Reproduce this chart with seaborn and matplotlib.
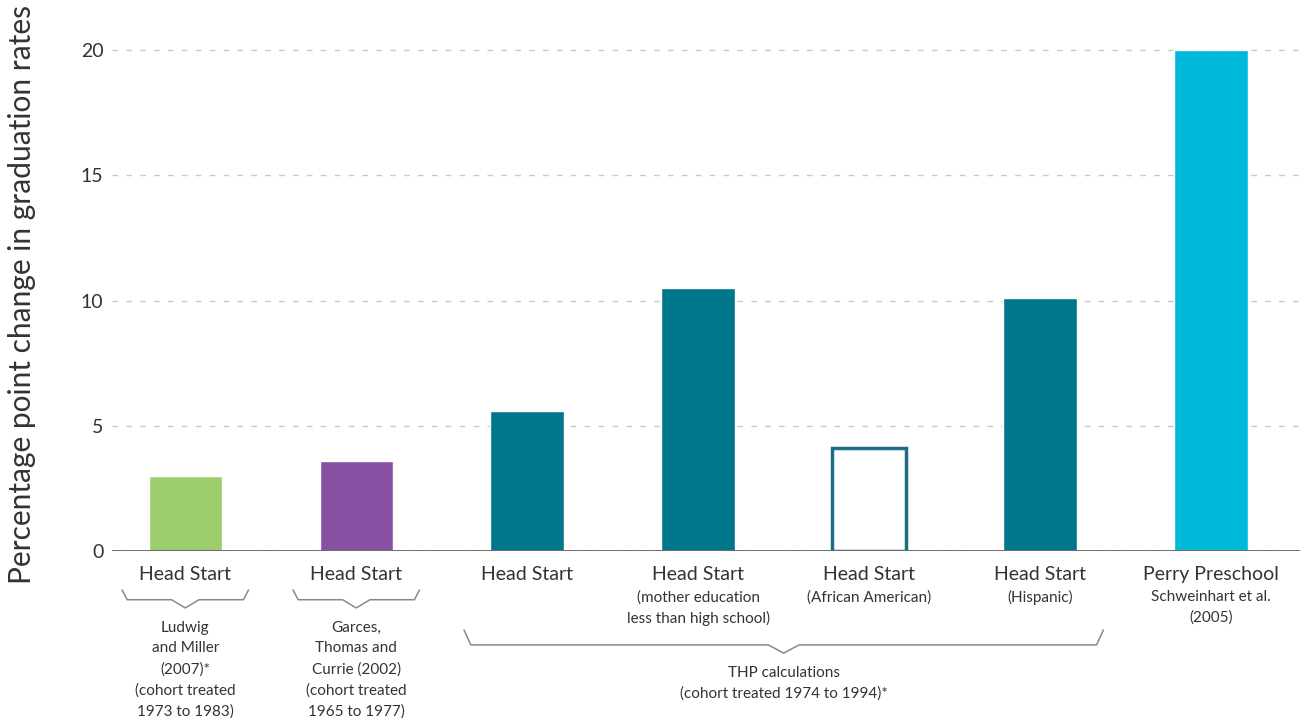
import numpy as np
import pandas as pd
import seaborn as sns
import matplotlib.pyplot as plt
from matplotlib.transforms import blended_transform_factory

sns.set_theme(style="white")
plt.rcParams['font.family'] = ['Lato', 'DejaVu Sans']

# data
programs = ['HS_LM', 'HS_GTC', 'HS_THP', 'HS_mother', 'HS_afam', 'HS_hisp', 'Perry']
values = [3.0, 3.6, 5.6, 10.5, 4.1, 10.1, 20.0]
top_labels = ['Head Start', 'Head Start', 'Head Start', 'Head Start', 'Head Start', 'Head Start', 'Perry Preschool']
sub_labels = ['', '', '', '(mother education\nless than high school)', '(African American)',
              '(Hispanic)', 'Schweinhart et al.\n(2005)']
source_labels = ['Ludwig\nand Miller\n(2007)*\n(cohort treated\n1973 to 1983)',
                 'Garces,\nThomas and\nCurrie (2002)\n(cohort treated\n1965 to 1977)']
thp_label = 'THP calculations\n(cohort treated 1974 to 1994)*'
colors = ['#9dce6d', '#8750a3', '#00778b', '#00778b', '#ffffff', '#00778b', '#00b8d8']

df = pd.DataFrame({'program': programs, 'value': values})

fig = plt.figure(figsize=(13, 7.24), dpi=100)
ax = fig.add_axes([0.086, 0.239, 0.914, 0.709])

sns.barplot(data=df, x='program', y='value', hue='program', palette=colors,
            width=0.43, legend=False, ax=ax, saturation=1)
# hollow bar for African American
ax.patches[4].set_edgecolor('#1a6f86')
ax.patches[4].set_linewidth(2.5)

ax.set_xlim(-0.43, 6.52)
ax.set_ylim(0, 20.5)
ax.set_yticks([0, 5, 10, 15, 20])
ax.yaxis.grid(True, color='#c8c8c8', linestyle=(0, (4, 6)), linewidth=1)
ax.set_axisbelow(True)
ax.axhline(0, color='#6b6b6b', linewidth=1.4, zorder=3)
sns.despine(ax=ax, left=True, bottom=True)

ax.set_xticks(range(len(programs)))
ax.set_xticklabels(top_labels, fontsize=14, color='#333333')
ax.tick_params(axis='x', length=0, pad=11)
ax.tick_params(axis='y', length=0, pad=6, labelsize=14, labelcolor='#333333')
ax.set_xlabel('')
ax.set_ylabel('Percentage point change in graduation rates', fontsize=21.5, color='#333333')
ax.yaxis.set_label_coords(-0.064, 0.5)

tr = blended_transform_factory(ax.transData, ax.transAxes)
for i, s in enumerate(sub_labels):
    if s:
        ax.text(i, -0.076, s, transform=tr, ha='center', va='top', fontsize=11,
                color='#333333', linespacing=1.55)
for i, s in enumerate(source_labels):
    ax.text(i, -0.136, s, transform=tr, ha='center', va='top', fontsize=11,
            color='#333333', linespacing=1.6)
ax.text(3.5, -0.224, thp_label, transform=tr, ha='center', va='top', fontsize=11,
        color='#333333', linespacing=1.6)


def bracket(x0, x1, ytop, yline, ytip, tipw, slant):
    xc = (x0 + x1) / 2
    xs = [x0 - slant, x0, xc - tipw, xc, xc + tipw, x1, x1 + slant]
    ys = [ytop, yline, yline, ytip, yline, yline, ytop]
    ax.plot(xs, ys, transform=tr, color='#8a8a80', linewidth=1.1, clip_on=False)


bracket(-0.34, 0.34, -0.076, -0.095, -0.111, 0.08, 0.03)
bracket(0.66, 1.34, -0.076, -0.095, -0.111, 0.08, 0.03)
bracket(1.67, 5.33, -0.154, -0.183, -0.199, 0.09, 0.04)

plt.savefig('out.png', dpi=100)
